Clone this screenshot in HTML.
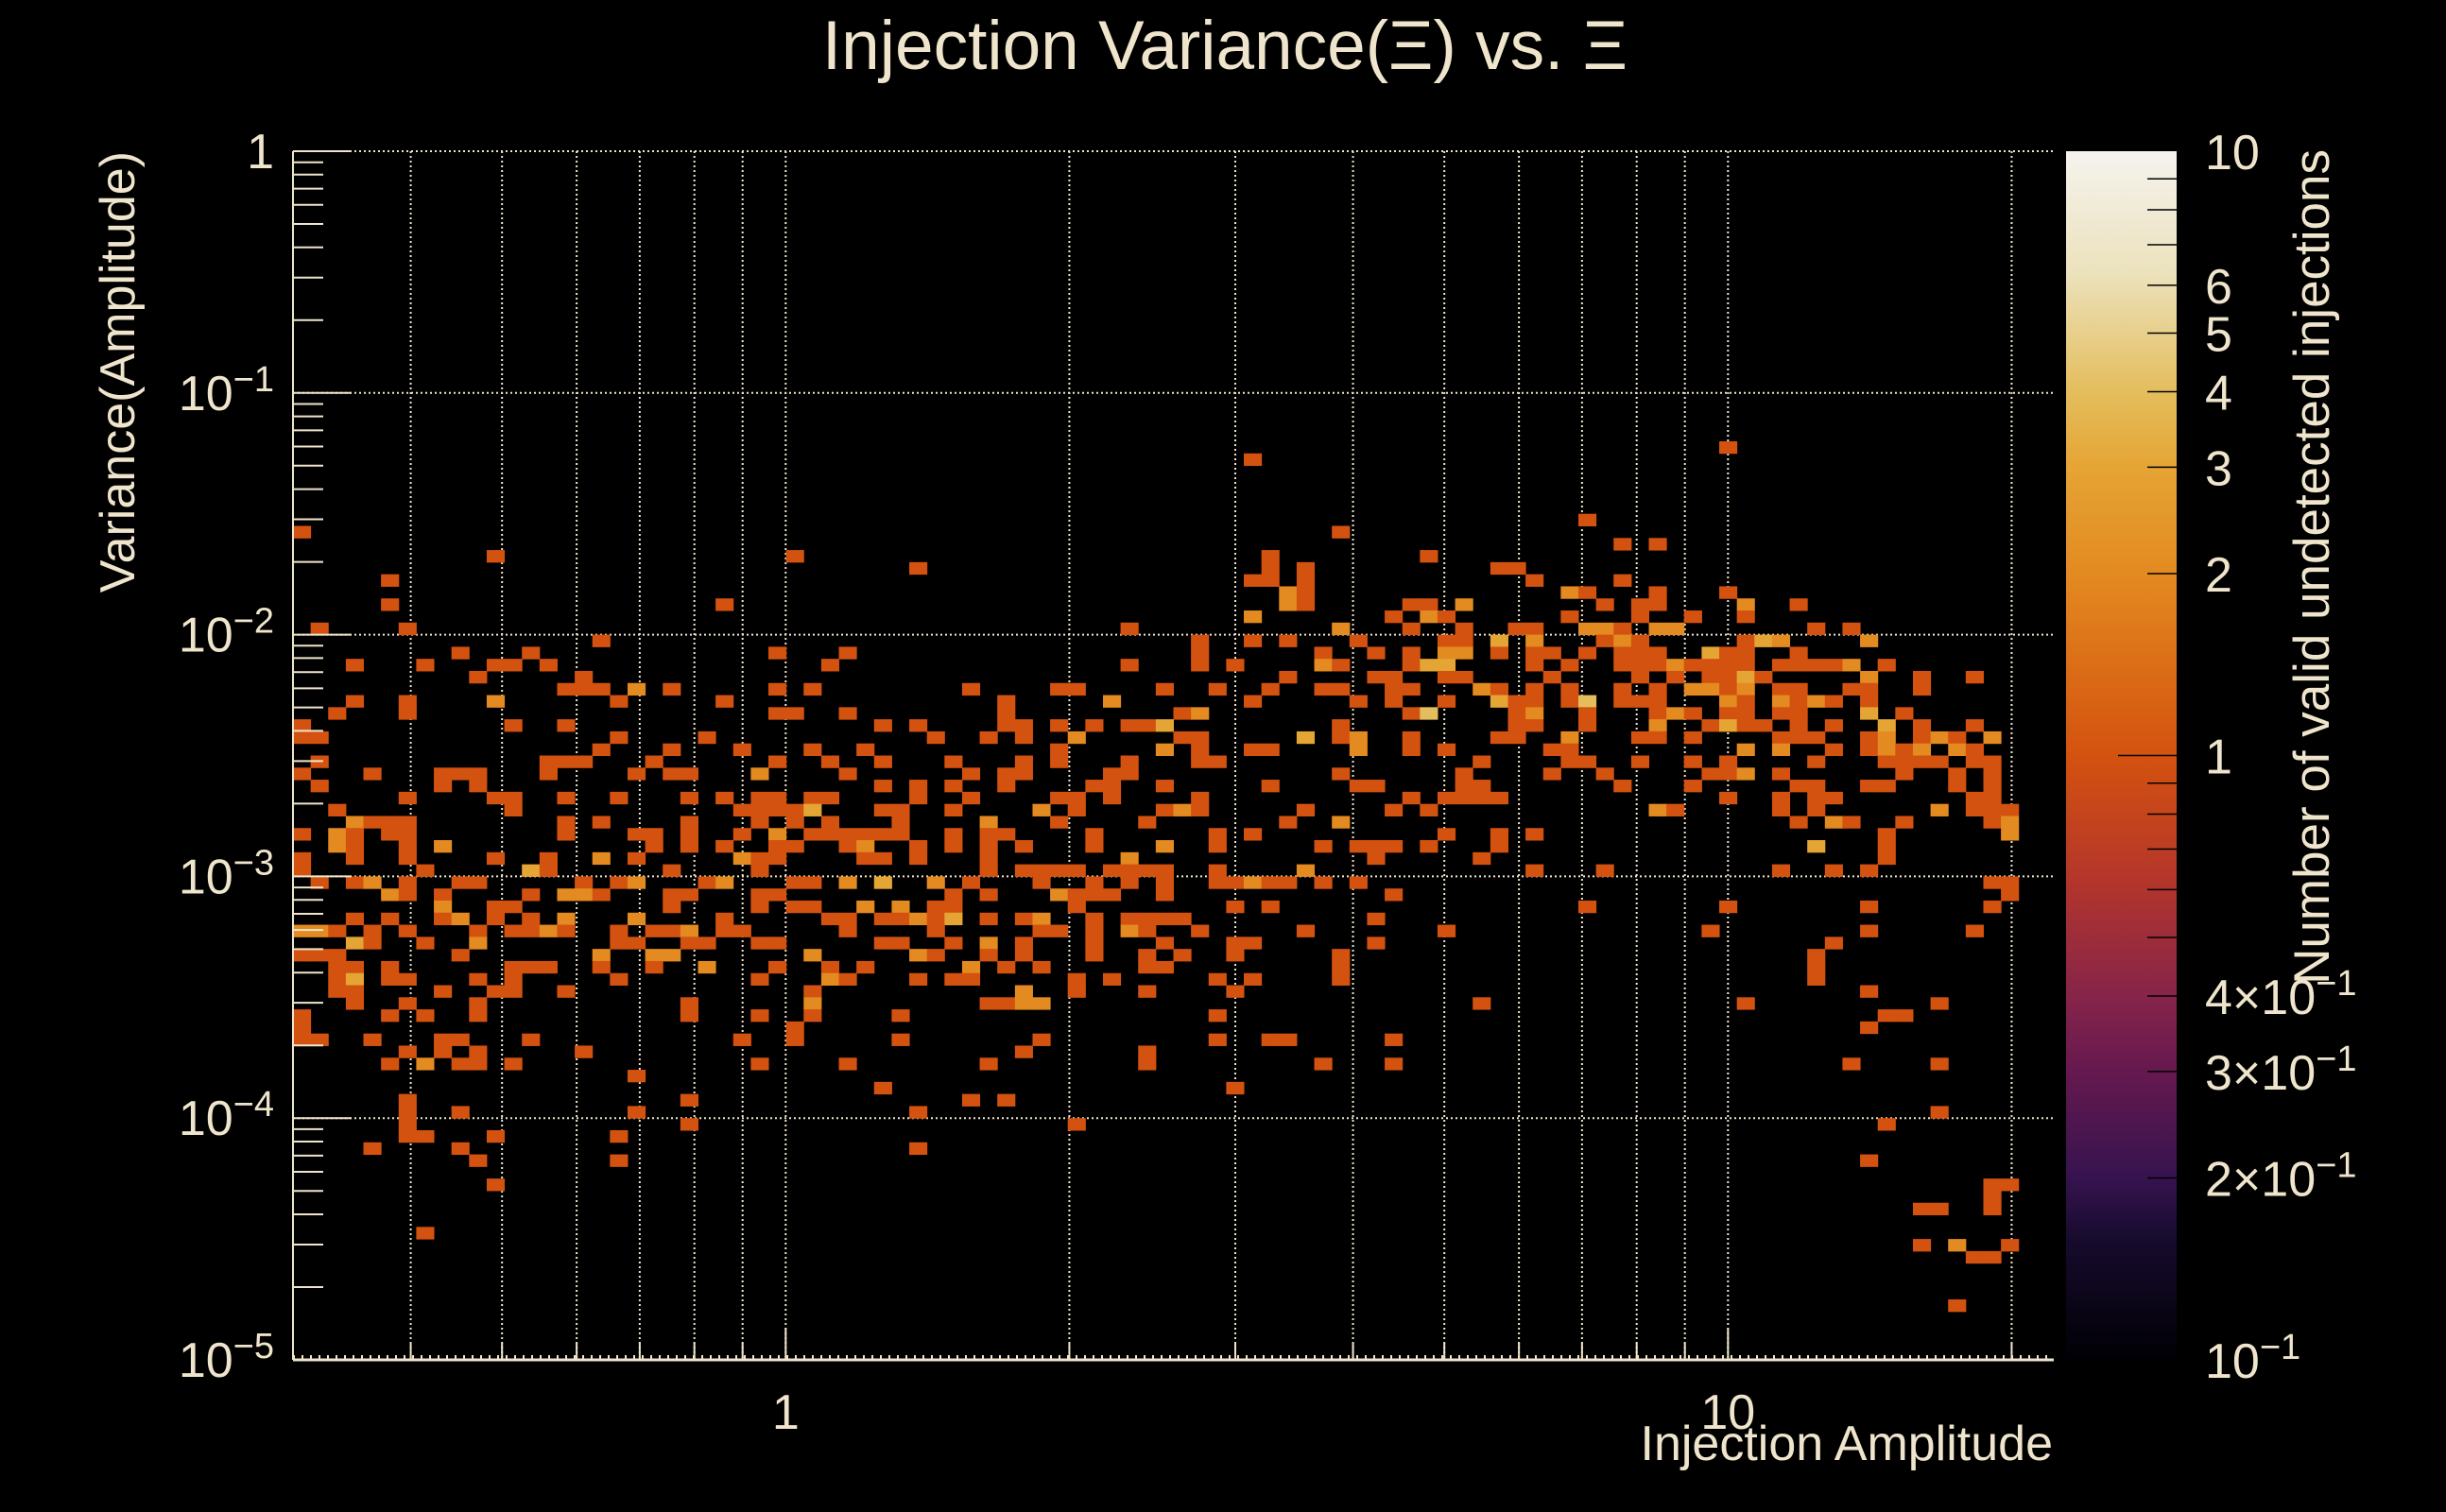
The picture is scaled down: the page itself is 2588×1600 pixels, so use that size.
<!DOCTYPE html>
<html><head><meta charset="utf-8">
<style>
html,body{margin:0;padding:0;background:#000;}
svg{display:block;font-family:"Liberation Sans",sans-serif;}
</style></head>
<body>
<svg id="chart" width="2588" height="1600" viewBox="0 0 2588 1600" xmlns="http://www.w3.org/2000/svg">
<rect x="0" y="0" width="2588" height="1600" fill="#000"/>
<text x="1296" y="73" text-anchor="middle" font-size="73" fill="#efe5cc">Injection Variance(Ξ) vs. Ξ</text>
<g id="grid"></g>
<g id="cells"></g>
<g id="axes"></g>
<g id="cbar"></g>
<text x="2172" y="1545" text-anchor="end" font-size="52" fill="#efe5cc">Injection Amplitude</text>
<text transform="translate(142,160) rotate(-90)" text-anchor="end" font-size="52" fill="#efe5cc">Variance(Amplitude)</text>
<text transform="translate(2464,158) rotate(-90)" text-anchor="end" font-size="53" fill="#efe5cc">Number of valid undetected injections</text>
</svg>
<script>
// ---- data ----
const xMin = 0.3, nBinsX = 100, nBinsY = 100;
const yMinExp = -5, yMaxExp = 0;
const xGridValues = [0.4,0.5,0.6,0.7,0.8,0.9,1,2,3,4,5,6,7,8,9,10,20];
const xTickLabels = [[1,"1"],[10,"10"]];
const yTickExps = [0,-1,-2,-3,-4,-5];
const zTickLabels = [[10,"10"],[6,"6"],[5,"5"],[4,"4"],[3,"3"],[2,"2"],[1,"1"],[0.4,"4×10","−1"],[0.3,"3×10","−1"],[0.2,"2×10","−1"],[0.1,"10","−1"]];
// rows: [row index from top, [x-bin columns]]
const binRows = [
[24,[81]],[25,[54]],[30,[73]],[31,[0,59]],[32,[75,77]],[33,[11,28,55,64]],[34,[35,55,57,68,69]],
[35,[5,54,55,57,70,75]],[36,[56,57,72,73,77,81]],[37,[5,24,56,57,63,64,66,74,76,77,82,85]],
[38,[54,62,64,65,72,76,79,82]],[39,[1,6,47,59,63,66,69,70,73,74,75,77,78,86,88]],
[40,[17,51,54,56,60,65,66,68,70,74,75,76,82,83,84,89]],
[41,[9,13,27,31,51,58,61,63,65,66,68,70,71,73,75,76,77,80,81,82,85]],
[42,[3,7,11,12,14,30,47,51,53,58,59,63,64,65,70,72,75,76,77,78,79,80,81,82,84,85,86,87,88,90]],
[43,[10,16,56,61,62,65,66,71,76,78,80,81,82,83,89,92,95]],
[44,[15,16,17,19,21,27,29,38,43,44,49,52,55,58,59,62,63,67,68,70,72,75,77,79,80,81,82,84,85,88,89,92]],
[45,[3,6,11,18,24,40,46,54,60,62,65,68,69,70,72,73,75,76,77,81,82,84,85,86,87,89]],
[46,[2,6,27,28,31,40,50,51,63,64,69,70,73,77,78,79,81,82,84,85,89,91]],
[47,[0,12,15,33,35,40,41,43,45,47,48,49,59,69,70,73,77,80,81,82,83,85,87,90,92,95]],
[48,[0,1,18,23,36,39,41,44,50,51,57,59,60,63,68,69,72,76,77,79,84,85,86,89,90,92,93,94,96]],
[49,[17,21,25,29,32,43,49,51,54,55,60,63,65,71,72,82,84,87,89,90,91,92,94,95]],
[50,[1,14,15,16,20,27,30,33,37,41,43,47,51,52,67,72,73,76,79,81,86,90,91,92,93,95,96]],
[51,[0,4,8,9,10,14,19,21,22,26,31,38,40,41,46,47,59,66,71,74,80,81,82,84,91,94,96]],
[52,[1,8,10,33,35,37,40,45,46,49,55,60,61,66,67,75,79,85,86,89,90,94,96]],
[53,[6,11,12,15,18,22,24,26,27,29,30,35,38,43,44,46,51,63,65,66,67,68,81,84,86,87,95,96]],
[54,[2,12,25,26,27,28,29,33,34,37,42,44,49,50,51,57,62,64,77,78,84,86,93,95,96,97]],
[55,[3,4,5,6,15,17,22,26,28,30,34,39,43,48,56,59,85,87,88,91,96,97]],
[56,[0,2,3,5,6,15,19,20,22,25,27,29,30,31,32,33,34,37,39,40,45,52,54,65,68,70,90,97]],
[57,[2,3,6,8,20,22,24,27,28,31,32,35,37,39,41,45,49,52,58,60,61,62,64,68,86,90]],
[58,[0,3,6,11,14,17,19,25,26,27,32,33,35,39,47,61,67,90]],
[59,[0,7,13,14,21,26,39,41,42,43,44,46,47,48,49,52,57,70,74,84,87,89]],
[60,[1,3,4,6,9,10,16,18,19,23,24,28,29,31,33,36,38,42,45,47,49,52,53,54,55,56,58,60,96,97]],
[61,[5,6,8,13,15,16,17,21,22,26,27,37,39,43,44,45,46,49,62,97]],
[62,[8,11,12,21,26,28,29,32,34,36,37,44,53,55,73,81,89,96]],
[63,[3,5,8,9,11,13,15,19,24,30,31,33,34,35,36,37,39,41,42,45,47,48,49,50,61]],
[64,[0,1,2,4,6,10,12,13,14,15,18,20,21,22,24,25,31,36,42,43,45,47,48,51,57,65,80,89,95]],
[65,[3,4,7,10,18,19,22,23,26,27,33,34,37,39,41,45,49,53,54,61,87]],
[66,[0,1,2,9,17,20,21,29,35,36,39,41,45,48,50,53,59,86]],
[67,[2,3,5,12,13,14,17,20,23,27,30,32,38,40,42,48,49,59,86]],
[68,[2,3,5,6,10,12,18,26,30,31,35,37,38,44,46,52,54,59,86]],
[69,[2,3,8,11,12,15,29,41,44,48,53,89]],
[70,[3,6,10,22,29,39,40,41,42,67,82,93]],
[71,[0,5,7,10,22,26,29,34,52,90,91]],
[72,[0,28,89]],
[73,[0,1,4,8,9,13,25,28,34,42,52,55,56,62]],
[74,[6,8,10,16,41,48]],
[75,[5,7,9,10,12,26,31,39,48,58,62,88,93]],
[76,[19]],[77,[33,53]],[78,[6,22,38,40]],[79,[6,9,19,35,93]],[80,[6,22,44,90]],
[81,[6,7,11,18]],[82,[4,9,35]],[83,[10,18,89]],[85,[11,96,97]],[86,[96]],[87,[92,93,96]],
[89,[7]],[90,[92,94,97]],[91,[95,96]],[95,[94]]
];
// [row, column, count] for bins with count > 1
const higherCounts = [
[36,56,2],[36,72,2],[37,56,2],[37,66,2],[37,82,2],[38,54,2],[38,64,2],[39,59,2],[39,73,2],[39,74,2],[39,77,2],[39,78,2],
[40,68,3],[40,70,2],[40,75,2],[40,83,3],[40,84,2],[40,89,2],[41,65,2],[41,66,2],[41,80,3],
[42,58,2],[42,64,3],[42,65,3],[42,78,2],[42,88,2],[43,82,3],[43,89,2],
[44,19,2],[44,67,2],[44,79,2],[44,80,2],[44,82,2],[45,11,2],[45,46,2],[45,68,3],[45,73,4],[45,81,2],[45,84,2],[45,86,2],
[46,51,2],[46,64,4],[46,70,2],[46,78,2],[46,89,3],[47,49,3],[47,77,2],[47,81,3],[47,90,3],
[48,44,2],[48,57,3],[48,60,2],[48,72,2],[48,90,2],[48,93,2],[48,96,2],
[49,49,2],[49,60,2],[49,82,2],[49,84,2],[49,90,2],[49,92,2],[49,94,2],[51,26,2],[51,82,2],
[54,29,3],[54,42,2],[54,50,2],[54,77,2],[54,93,2],[55,3,2],[55,39,2],[55,59,2],[55,87,2],[55,97,2],
[56,2,2],[56,27,2],[56,97,2],[57,2,2],[57,8,2],[57,32,2],[57,49,2],[57,86,3],[58,17,2],[58,25,2],[58,47,2],
[59,13,3],[59,57,2],[60,4,2],[60,19,2],[60,24,2],[60,31,2],[60,33,3],[60,36,2],[60,54,2],
[61,5,2],[61,15,2],[61,16,2],[61,43,2],[62,8,2],[62,32,2],[62,34,2],
[63,9,2],[63,15,2],[63,19,2],[63,35,2],[63,37,3],[63,42,2],[64,0,2],[64,1,2],[64,14,2],[64,22,2],[64,47,2],
[65,3,3],[65,10,2],[65,39,2],[66,17,2],[66,20,2],[66,21,2],[66,29,2],[66,35,2],[67,23,2],[67,38,2],
[68,3,3],[68,30,2],[69,41,2],[70,29,2],[70,41,2],[70,42,2],[75,7,2],[90,94,2]
];
// ---- scales ----
const plotL = 310, plotR = 2173, plotT = 160, plotB = 1439;
const xMaxLog = Math.log10(xMin) + (plotR - plotL) / 997;
function xScale(v){ return plotL + (Math.log10(v) - Math.log10(xMin)) / (xMaxLog - Math.log10(xMin)) * (plotR - plotL); }
function yScale(v){ return plotB - (Math.log10(v) - yMinExp) / (yMaxExp - yMinExp) * (plotB - plotT); }
function xBinEdge(i){ return Math.pow(10, Math.log10(xMin) + i * (xMaxLog - Math.log10(xMin)) / nBinsX); }
function yBinEdgeFromTop(k){ return Math.pow(10, yMaxExp - k * (yMaxExp - yMinExp) / nBinsY); }
const cbL = 2186, cbR = 2303;
function zScale(v){ return plotB - (Math.log10(v) + 1) / 2 * (plotB - plotT); }
const palStops = [[0,"#000004"],[0.1,"#170b2e"],[0.15,"#36134f"],[0.24,"#66194f"],[0.3,"#86244a"],[0.4,"#b5362a"],[0.5,"#d4520f"],[0.65,"#e38a20"],[0.74,"#e5a535"],[0.8,"#e4bd5c"],[0.9,"#ece2bd"],[1,"#f5f3ee"]];
function hex(c){ return [1,3,5].map(i=>parseInt(c.substr(i,2),16)); }
function color(v){
  let t = Math.max(0, Math.min(1, (Math.log10(v) + 1) / 2));
  for (let i=1;i<palStops.length;i++){
    if (t <= palStops[i][0]){
      const a=palStops[i-1], b=palStops[i], f=(t-a[0])/(b[0]-a[0]);
      const ca=hex(a[1]), cb=hex(b[1]);
      return "rgb("+ca.map((x,j)=>Math.round(x+(cb[j]-x)*f)).join(",")+")";
    }
  }
  return palStops[palStops.length-1][1];
}
const NS = "http://www.w3.org/2000/svg";
function mk(tag, attrs, parent){ const e=document.createElementNS(NS,tag); for(const k in attrs) e.setAttribute(k,attrs[k]); parent.appendChild(e); return e; }
const FG = "#efe5cc";
// grid
const grid = document.getElementById("grid");
xGridValues.forEach(v=>{
  const x = xScale(v);
  const l = mk("line",{x1:x,x2:x,y1:plotT,y2:plotB,stroke:FG,"stroke-width":2,"stroke-dasharray":"2 3"},grid);
  
  
});
yTickExps.forEach(e=>{
  const y = yScale(Math.pow(10,e));
  const l = mk("line",{x1:plotL,x2:plotR,y1:y,y2:y,stroke:FG,"stroke-width":2,"stroke-dasharray":"2 3"},grid);
  
  
});
// cells
const cells = document.getElementById("cells");
const countMap = {};
higherCounts.forEach(h=>{ countMap[h[0]+"_"+h[1]] = h[2]; });
binRows.forEach(r=>{
  const k = r[0];
  const yTop = yScale(yBinEdgeFromTop(k)), yBot = yScale(yBinEdgeFromTop(k+1));
  r[1].forEach(c=>{
    const x0 = xScale(xBinEdge(c)), x1 = xScale(xBinEdge(c+1));
    const v = countMap[k+"_"+c] || 1;
    const rect = mk("rect",{x:x0,y:yTop,width:x1-x0+0.5,height:yBot-yTop+0.5,fill:color(v)},cells);
    
    
  });
});
// axes
const axes = document.getElementById("axes");
const yAxis = mk("line",{x1:plotL,x2:plotL,y1:plotT,y2:plotB,stroke:FG,"stroke-width":2},axes);


const xAxis = mk("line",{x1:plotL,x2:plotR,y1:plotB,y2:plotB,stroke:FG,"stroke-width":3},axes);


const xDense = mk("line",{x1:plotL,x2:plotR,y1:plotB-3,y2:plotB-3,stroke:FG,"stroke-width":4,"stroke-dasharray":"2 7"},axes);


for (let e=yMinExp; e<yMaxExp; e++){
  for (let m=2;m<=9;m++){
    const y = yScale(m*Math.pow(10,e));
    const t = mk("line",{x1:plotL,x2:plotL+32,y1:y,y2:y,stroke:FG,"stroke-width":2},axes);
    
    
  }
}
yTickExps.forEach(e=>{
  const y = yScale(Math.pow(10,e));
  const t = mk("line",{x1:plotL,x2:plotL+62,y1:y,y2:y,stroke:FG,"stroke-width":2},axes);
  
  
  const tx = mk("text",{x:290,y:y+18,"text-anchor":"end","font-size":52,fill:FG},axes);
  
  
  if (e===0) tx.textContent = "1";
  else {
    tx.appendChild(document.createTextNode("10"));
    const s = document.createElementNS(NS,"tspan");
    s.setAttribute("dy","-20"); s.setAttribute("font-size","38");
    s.textContent = "−"+(-e);
    tx.appendChild(s);
  }
});
xGridValues.forEach(v=>{
  const x = xScale(v);
  const major = (v===1||v===10);
  const t = mk("line",{x1:x,x2:x,y1:plotB,y2:plotB-(major?34:18),stroke:FG,"stroke-width":2},axes);
  
  
});
xTickLabels.forEach(p=>{
  const tx = mk("text",{x:xScale(p[0]),y:1512,"text-anchor":"middle","font-size":52,fill:FG},axes);
  
  
  tx.textContent = p[1];
});
// color bar
const cbar = document.getElementById("cbar");
const defs = mk("defs",{},cbar);
const grad = mk("linearGradient",{id:"pal",x1:0,y1:1,x2:0,y2:0},defs);
palStops.forEach(s=>{ mk("stop",{offset:s[0],"stop-color":s[1]},grad); });
const cbRect = mk("rect",{x:cbL,y:plotT,width:cbR-cbL,height:plotB-plotT,fill:"url(#pal)"},cbar);


for (let e=-1;e<1;e++){
  for (let m=1;m<=9;m++){
    const v = m*Math.pow(10,e);
    if (v<=0.1) continue;
    const y = zScale(v);
    const len = (v===1)?62:31;
    const t = mk("line",{x1:cbR-len,x2:cbR,y1:y,y2:y,stroke:"#000","stroke-width":1.5},cbar);
    
    
  }
}
zTickLabels.forEach(p=>{
  const y = zScale(p[0]);
  const tx = mk("text",{x:2333,y:y+19,"text-anchor":"start","font-size":52,fill:FG},cbar);
  
  
  tx.appendChild(document.createTextNode(p[1]));
  if (p[2]){
    const s = document.createElementNS(NS,"tspan");
    s.setAttribute("dy","-20"); s.setAttribute("font-size","38");
    s.textContent = p[2];
    tx.appendChild(s);
  }
});
</script>
</body></html>
